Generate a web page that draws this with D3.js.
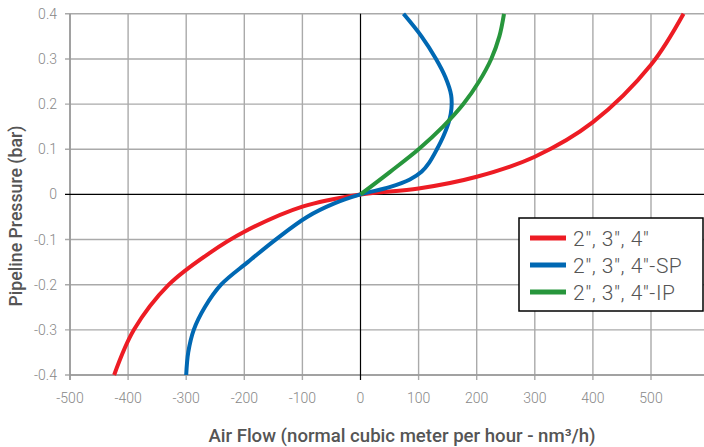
<!DOCTYPE html>
<meta charset="utf-8">
<style>
  body { margin: 0; background: #fff; }
  text { font-family: Roboto, "Noto Sans", sans-serif; }
</style>
<svg width="704" height="447"></svg>
<script src="https://d3js.org/d3.v7.min.js"></script>
<script>

// tick labels
var xTicks = [-500, -400, -300, -200, -100, 0, 100, 200, 300, 400, 500],
    yTicks = [-0.4, -0.3, -0.2, -0.1, 0, 0.1, 0.2, 0.3, 0.4];

// series: pressure (bar) vs air flow (nm3/h)
var redPressure  = [-0.4, -0.3, -0.2, -0.13, -0.0827, -0.027, 0, 0.013, 0.039, 0.0835, 0.16, 0.287, 0.4],
    redFlow      = [-424, -390, -330, -260, -200, -100, 0, 100, 200, 300, 400, 500, 556];

var bluePressure = [-0.4, -0.35, -0.3, -0.25, -0.2, -0.15, -0.1, -0.05, -0.02, 0, 0.016, 0.033, 0.05, 0.07, 0.1, 0.13, 0.165, 0.19, 0.22, 0.26, 0.3, 0.35, 0.4],
    blueFlow     = [-300, -296.5, -287, -268, -240, -194, -146, -92, -45, 0, 50, 85, 105, 118, 131.5, 143, 153, 156.5, 156, 146, 130, 105, 74];

var greenPressure = [0, 0.05, 0.1, 0.15, 0.2, 0.25, 0.3, 0.35, 0.4],
    greenFlow     = [0, 51, 100, 142, 177, 204, 225, 239, 247];

var series = [
  {name: "2\", 3\", 4\"",    color: "#ed1c24", p: redPressure,   f: redFlow},
  {name: "2\", 3\", 4\"-SP", color: "#0068b3", p: bluePressure,  f: blueFlow},
  {name: "2\", 3\", 4\"-IP", color: "#27963c", p: greenPressure, f: greenFlow}
];

var svg = d3.select("svg");

var plotLeft = 70, plotRight = 704, plotTop = 13.8, plotBottom = 375;

var x = d3.scaleLinear()
    .domain([-500, 500])
    .range([plotLeft, 651]);

var y = d3.scaleLinear()
    .domain([-0.4, 0.4])
    .range([plotBottom, plotTop]);

// grid
var grid = svg.append("g").attr("stroke", "#aaa").attr("stroke-width", 1.4);

grid.selectAll(".v")
  .data(xTicks.concat([600]).filter(function(d) { return d !== 0; }))
  .enter().append("line")
    .attr("x1", function(d) { return x(d); })
    .attr("x2", function(d) { return x(d); })
    .attr("y1", plotTop)
    .attr("y2", plotBottom + 5);

grid.selectAll(".h")
  .data(yTicks.filter(function(d) { return d !== 0; }))
  .enter().append("line")
    .attr("x1", plotLeft - 5)
    .attr("x2", plotRight)
    .attr("y1", function(d) { return y(d); })
    .attr("y2", function(d) { return y(d); });

// axes lines
svg.append("line")
    .attr("x1", plotLeft).attr("x2", plotLeft)
    .attr("y1", plotTop).attr("y2", plotBottom + 5)
    .attr("stroke", "#999").attr("stroke-width", 1.6);

svg.append("line")
    .attr("x1", plotLeft).attr("x2", plotRight)
    .attr("y1", plotBottom).attr("y2", plotBottom)
    .attr("stroke", "#999").attr("stroke-width", 1.6);

// zero lines
svg.append("line")
    .attr("x1", plotLeft - 5).attr("x2", plotRight)
    .attr("y1", y(0)).attr("y2", y(0))
    .attr("stroke", "#000").attr("stroke-width", 1.2);

svg.append("line")
    .attr("x1", x(0)).attr("x2", x(0))
    .attr("y1", plotTop).attr("y2", plotBottom + 5)
    .attr("stroke", "#000").attr("stroke-width", 1.2);

// tick labels
svg.append("g").selectAll("text")
  .data(xTicks)
  .enter().append("text")
    .attr("x", function(d) { return x(d); })
    .attr("y", 403)
    .attr("text-anchor", "middle")
    .attr("fill", "#888")
    .attr("font-size", 14)
    .attr("font-weight", 300)
    .text(function(d) { return d; });

svg.append("g").selectAll("text")
  .data(yTicks)
  .enter().append("text")
    .attr("x", 57)
    .attr("y", function(d) { return y(d) + 5; })
    .attr("text-anchor", "end")
    .attr("fill", "#888")
    .attr("font-size", 14)
    .attr("font-weight", 300)
    .text(function(d) { return d3.format(".1~f")(d).replace("−", "-"); });

// axis titles
svg.append("text")
    .attr("x", 402)
    .attr("y", 442)
    .attr("text-anchor", "middle")
    .attr("fill", "#555")
    .attr("font-size", 18.6)
    .attr("font-weight", 500)
    .text("Air Flow (normal cubic meter per hour - nm³/h)");

svg.append("text")
    .attr("transform", "translate(22,216) rotate(-90)")
    .attr("text-anchor", "middle")
    .attr("fill", "#555")
    .attr("font-size", 17.7)
    .attr("font-weight", 500)
    .text("Pipeline Pressure (bar)");

// curves
var line = d3.line()
    .x(function(d) { return x(d[1]); })
    .y(function(d) { return y(d[0]); })
    .curve(d3.curveCatmullRom.alpha(0.5));

svg.append("g").selectAll("path")
  .data(series)
  .enter().append("path")
    .attr("fill", "none")
    .attr("stroke", function(d) { return d.color; })
    .attr("stroke-width", 4)
    .attr("d", function(d) { return line(d3.zip(d.p, d.f)); });

// legend
var legend = svg.append("g").attr("transform", "translate(519,218)");

legend.append("rect")
    .attr("width", 184)
    .attr("height", 93)
    .attr("fill", "#fff")
    .attr("stroke", "#000")
    .attr("stroke-width", 1.5);

var item = legend.selectAll(".item")
  .data(series)
  .enter().append("g")
    .attr("transform", function(d, i) { return "translate(0," + (20 + i * 27) + ")"; });

item.append("line")
    .attr("x1", 11).attr("x2", 47)
    .attr("stroke", function(d) { return d.color; })
    .attr("stroke-width", 5);

item.append("text")
    .attr("x", 54)
    .attr("y", 7.5)
    .attr("fill", "#555")
    .attr("font-size", 21)
    .attr("font-weight", 300)
    .attr("letter-spacing", 0.5)
    .text(function(d) { return d.name; });

</script>
